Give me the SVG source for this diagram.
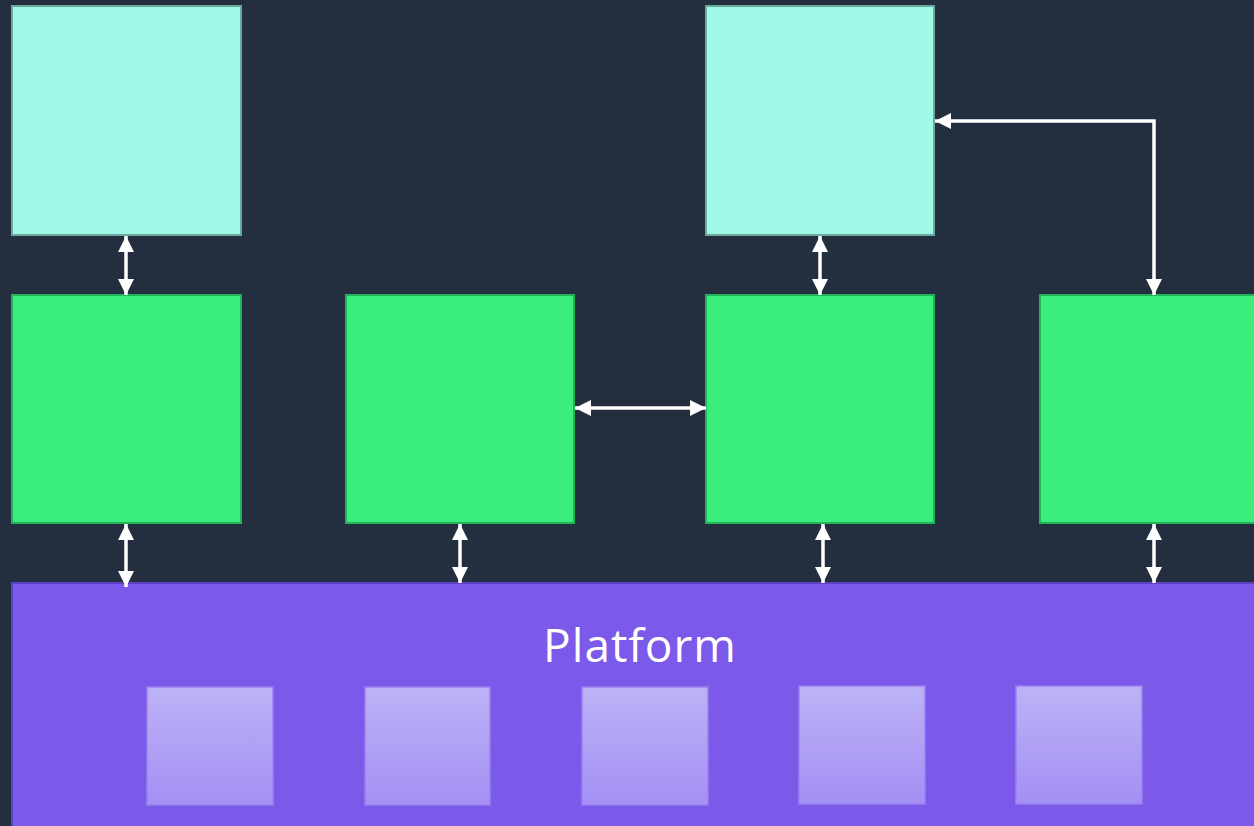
<svg xmlns="http://www.w3.org/2000/svg" width="1254" height="826" viewBox="0 0 1254 826">
<defs>
<style>
.cyan{fill:#a1f9e8;stroke:#6aa99c;stroke-width:2}
.green{fill:#3bee7c;stroke:#23b35a;stroke-width:2}
.plat{fill:#7b59e9;stroke:#5e40c4;stroke-width:2}
.sq{fill:url(#sqg);stroke:#9a80f2;stroke-width:1.5}
.conn{fill:none;stroke:#ffffff;stroke-width:3.5;marker-start:url(#ah);marker-end:url(#ah)}
.conn1{fill:none;stroke:#ffffff;stroke-width:3.5;marker-end:url(#ah)}
.lbl{font-family:"Open Sans","Noto Sans",sans-serif;font-size:46px;letter-spacing:1px;fill:#ffffff}
</style>
<linearGradient id="sqg" x1="0" y1="0" x2="0" y2="1">
<stop offset="0" stop-color="#bdb2f6"/>
<stop offset="1" stop-color="#a48ff4"/>
</linearGradient>
<marker id="ah" viewBox="0 0 16 16" refX="16" refY="8" markerWidth="16" markerHeight="16" markerUnits="userSpaceOnUse" orient="auto-start-reverse">
<path d="M0,0 L16,8 L0,16 Z" fill="#ffffff"/>
</marker>
</defs>
<rect width="1254" height="826" fill="#232f3f"/>
<g id="platform">
<rect class="plat" x="12" y="583" width="1250" height="250"/>
<text class="lbl" x="640" y="662" text-anchor="middle">Platform</text>
<rect class="sq" x="147" y="687" width="126" height="118"/>
<rect class="sq" x="365" y="687" width="125" height="118"/>
<rect class="sq" x="582" y="687" width="126" height="118"/>
<rect class="sq" x="799" y="686" width="126" height="118"/>
<rect class="sq" x="1016" y="686" width="126" height="118"/>
</g>
<g id="cyan1"><rect class="cyan" x="12" y="6" width="229" height="229"/></g>
<g id="cyan2"><rect class="cyan" x="706" y="6" width="228" height="229"/></g>
<g id="green1"><rect class="green" x="12" y="295" width="229" height="228"/></g>
<g id="green2"><rect class="green" x="346" y="295" width="228" height="228"/></g>
<g id="green3"><rect class="green" x="706" y="295" width="228" height="228"/></g>
<g id="green4"><rect class="green" x="1040" y="295" width="230" height="228"/></g>
<g id="connectors">
<line class="conn" x1="126" y1="236" x2="126" y2="295"/>
<line class="conn" x1="820" y1="236" x2="820" y2="295"/>
<line class="conn" x1="575" y1="408" x2="706" y2="408"/>
<path class="conn1" d="M1154,295 V121 H935" style="marker-start:url(#ah)"/>
<line class="conn" x1="126" y1="524" x2="126" y2="587"/>
<line class="conn" x1="460" y1="524" x2="460" y2="583"/>
<line class="conn" x1="823" y1="524" x2="823" y2="583"/>
<line class="conn" x1="1154" y1="524" x2="1154" y2="583"/>
</g>
</svg>
